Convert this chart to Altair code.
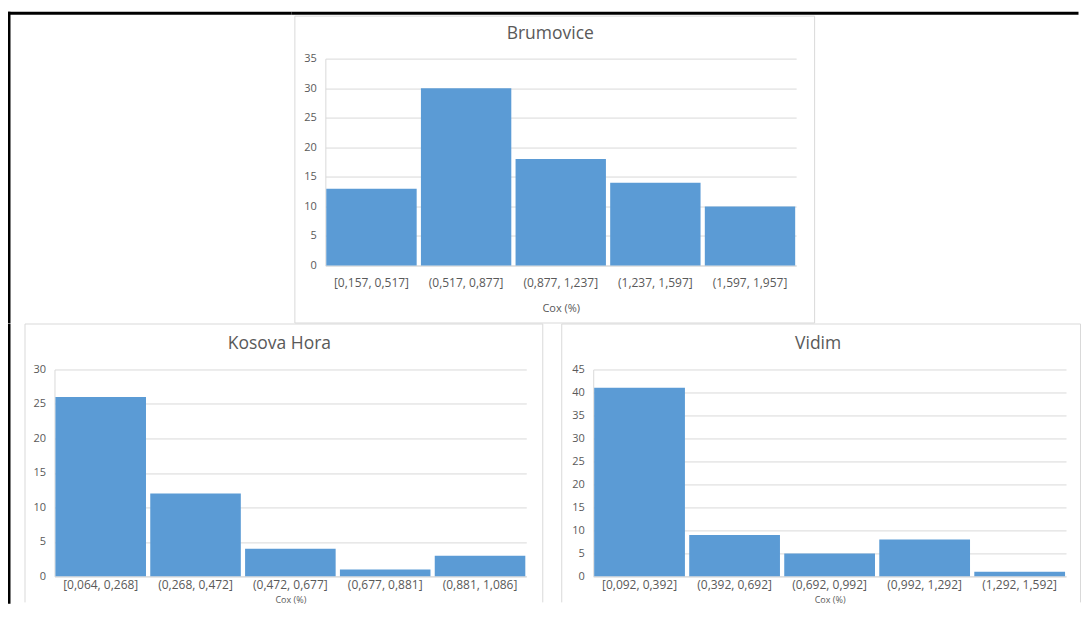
import altair as alt
import pandas as pd

# ---- data ----
brum_bins = ["[0,157, 0,517]", "(0,517, 0,877]", "(0,877, 1,237]", "(1,237, 1,597]", "(1,597, 1,957]"]
brum_counts = [13, 30, 18, 14, 10]

kos_bins = ["[0,064, 0,268]", "(0,268, 0,472]", "(0,472, 0,677]", "(0,677, 0,881]", "(0,881, 1,086]"]
kos_counts = [26, 12, 4, 1, 3]

vid_bins = ["[0,092, 0,392]", "(0,392, 0,692]", "(0,692, 0,992]", "(0,992, 1,292]", "(1,292, 1,592]"]
vid_counts = [41, 9, 5, 8, 1]

x_title = "Cox (%)"

BAR = "#5B9BD5"
GRID = "#d9d9d9"
TXT = "#595959"
FONT = "Open Sans"

one = alt.Data(values=[{"k": 1}])


def bars_layer(bins, counts, ymax, label_pad, title_size, title_pad):
    df = pd.DataFrame({"bin": bins, "count": counts})
    return alt.Chart(df).mark_bar(color=BAR).encode(
        x=alt.X("bin:N", sort=bins, title=x_title,
                scale=alt.Scale(paddingInner=0.045, paddingOuter=0.01),
                axis=alt.Axis(labelAngle=0, ticks=False, labelPadding=label_pad,
                              labelFontSize=12, labelColor=TXT, labelFont=FONT,
                              domainColor=GRID, titleFontSize=title_size, titleColor=TXT,
                              titleFont=FONT, titleFontWeight="normal",
                              titlePadding=title_pad)),
        y=alt.Y("count:Q", title=None,
                scale=alt.Scale(domain=[0, ymax], nice=False),
                axis=alt.Axis(values=list(range(0, ymax + 1, 5)), ticks=False,
                              labelPadding=9, labelFontSize=11, labelColor=TXT,
                              labelFont=FONT, domainColor=GRID, gridColor=GRID)),
    )


def title_text(name):
    return alt.Chart(one).mark_text(text=name, fontSize=17.5, font=FONT, color=TXT,
                                    baseline="middle", align="center").encode(
        x=alt.value(225), y=alt.value(-25)
    )


def rule(x, y, x2=None, y2=None, color="#000000", width=3, cap="square"):
    enc = {"x": alt.value(x), "y": alt.value(y)}
    if x2 is not None:
        enc["x2"] = alt.value(x2)
    if y2 is not None:
        enc["y2"] = alt.value(y2)
    return alt.Chart(one).mark_rule(color=color, strokeWidth=width, strokeCap=cap).encode(**enc)


def open_box(x0, x1, y0, y1):
    # light panel border: top, left and right sides (bottom is outside the picture)
    return [rule(x0, y0, x2=x1, color=GRID, width=1, cap="butt"),
            rule(x0, y0, y2=y1, color=GRID, width=1, cap="butt"),
            rule(x1, y0, y2=y1, color=GRID, width=1, cap="butt")]


# left spacer carrying the corner of the outer black frame
spacer = alt.layer(
    rule(-45.5, -45.5, x2=235.5),
    rule(-45.5, -45.5, y2=263.5),
).properties(width=10, height=200)

# top panel
top_border = alt.Chart(one).mark_rect(fillOpacity=0, stroke=GRID, strokeWidth=1).encode(
    x=alt.value(-30.5), x2=alt.value(489.5), y=alt.value(-42.5), y2=alt.value(264.5)
)
top = alt.layer(
    top_border,
    bars_layer(brum_bins, brum_counts, 35, 12, 11, 14),
    title_text("Brumovice"),
    rule(-32.5, -45.5, x2=752),
).properties(width=471, height=207)

# bottom-left panel
bl = alt.layer(
    *open_box(-29.5, 488.5, -45.5, 233),
    bars_layer(kos_bins, kos_counts, 30, 3, 9, 5),
    title_text("Kosova Hora"),
    rule(-45.5, -44, y2=233),
).properties(width=472, height=207)

# bottom-right panel
br = alt.layer(
    *open_box(-31.5, 487.5, -45.5, 233),
    bars_layer(vid_bins, vid_counts, 45, 3, 9, 5),
    title_text("Vidim"),
).properties(width=473, height=207)

top_row = alt.hconcat(spacer, top, spacing=-2)
bottom_row = alt.hconcat(bl, br, spacing=18)
chart = alt.vconcat(top_row, bottom_row, spacing=-2).properties(
    padding={"left": -1.5, "top": 2.5, "right": 0, "bottom": 0}
).configure_view(stroke="transparent", strokeWidth=0)

chart.save("out.html", embed_options={"renderer": "svg", "actions": False})
